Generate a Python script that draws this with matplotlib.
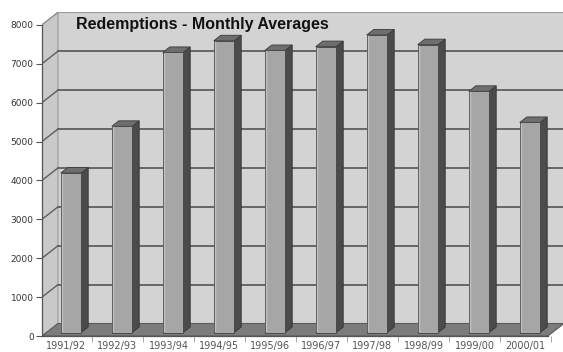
import matplotlib
matplotlib.use("Agg")
import matplotlib.pyplot as plt
from matplotlib.patches import Polygon

categories = ["1991/92", "1992/93", "1993/94", "1994/95", "1995/96",
              "1996/97", "1997/98", "1998/99", "1999/00", "2000/01"]
values = [4100, 5300, 7200, 7500, 7250, 7350, 7650, 7400, 6200, 5400]
yticks = [0, 1000, 2000, 3000, 4000, 5000, 6000, 7000, 8000]
title = "Redemptions - Monthly Averages"

W, H = 563, 352
fig = plt.figure(figsize=(W / 100, H / 100), dpi=100)
fig.patch.set_facecolor("white")

# pixel geometry
px_left, px_right = 42, 563
px_zero, px_top = 336, 12
pitch = 51.0
px_c0 = 66.5
per1000 = 38.9

ax = fig.add_axes([px_left / W, (H - px_zero) / H,
                   (px_right - px_left) / W, (px_zero - px_top) / H])
xmin = (px_left - px_c0) / pitch
xmax = (px_right - px_c0) / pitch
ymax = (px_zero - px_top) / per1000 * 1000
ax.set_xlim(xmin, xmax)
ax.set_ylim(0, ymax)
ax.set_facecolor("white")

DX = 16 / pitch
DY = 12.5 / per1000 * 1000
xL = xmin
xR = 9.44
top = 8000


def P(x, y, z):
    return (x + z * DX, y + z * DY)


# back wall
ax.add_patch(Polygon([P(xL, 0, 1), P(xR + 1, 0, 1), P(xR + 1, top, 1), P(xL, top, 1)],
                     closed=True, facecolor="#d3d3d3", edgecolor="none", zorder=1))
# left wall
ax.add_patch(Polygon([P(xL, 0, 0), P(xL, 0, 1), P(xL, top, 1), P(xL, top, 0)],
                     closed=True, facecolor="#c9c9c9", edgecolor="#9a9a9a", lw=0.8, zorder=1))
# gridlines
for v in yticks[1:-1]:
    bx, by = P(xL, v, 1)
    ax.plot([bx, xmax + 1], [by, by], color="#5e5e5e", lw=1.3, zorder=2)
    fx, fy = P(xL, v, 0)
    ax.plot([fx, bx], [fy, by], color="#5e5e5e", lw=1.0, zorder=2)
tx, ty = P(xL, top, 1)
ax.plot([tx, xmax + 1], [ty, ty], color="#9a9a9a", lw=0.8, zorder=2)
ax.plot([xL, tx], [top, ty], color="#8a8a8a", lw=0.8, zorder=2)

# floor
ax.add_patch(Polygon([P(xL, 0, 0), P(xR, 0, 0), P(xR, 0, 1), P(xL, 0, 1)],
                     closed=True, facecolor="#7c7c7c", edgecolor="#5a5a5a", lw=0.8, zorder=3))

# bars
w = 0.40
z0, z1 = 0.28, 0.72
xs = list(range(len(values)))
fxs = [x - w / 2 + z0 * DX for x in xs]
ax.bar([f + w / 2 for f in fxs], values, width=w, bottom=z0 * DY,
       color="#a6a6a6", edgecolor="#4a4a4a", linewidth=0.7, zorder=5)
for x, v in zip(xs, values):
    x0, x1 = x - w / 2, x + w / 2
    side = [P(x1, 0, z0), P(x1, 0, z1), P(x1, v, z1), P(x1, v, z0)]
    ax.add_patch(Polygon(side, closed=True, facecolor="#4b4b4b",
                         edgecolor="#333333", lw=0.6, zorder=4))
    topf = [P(x0, v, z0), P(x1, v, z0), P(x1, v, z1), P(x0, v, z1)]
    ax.add_patch(Polygon(topf, closed=True, facecolor="#6e6e6e",
                         edgecolor="#3a3a3a", lw=0.6, zorder=4))
    # light highlight strip on front face
    hx = x0 + z0 * DX
    ax.plot([hx + 0.03, hx + 0.03], [z0 * DY + 30, v + z0 * DY - 30],
            color="#c0c0c0", lw=1.0, zorder=6)

# axes styling
for s in ["top", "right", "bottom"]:
    ax.spines[s].set_visible(False)
ax.spines["left"].set_bounds(0, top)
ax.spines["left"].set_color("#555555")
ax.spines["left"].set_linewidth(0.9)
ax.spines["left"].set_zorder(7)
ax.set_yticks(yticks)
ax.set_yticklabels([str(t) for t in yticks], fontsize=6.5, color="#333333")
ax.tick_params(axis="y", length=4, width=0.8, color="#555555", pad=2)
ax.set_xticks(xs)
ax.set_xticklabels(categories, fontsize=7, color="#555555")
ax.tick_params(axis="x", length=0, pad=3.5)
ax.set_xticks([x - 0.5 for x in range(1, len(values) + 1)], minor=True)
ax.tick_params(axis="x", which="minor", length=4, color="#999999")
ax.plot([xL, xR], [0, 0], color="#555555", lw=0.9, zorder=7, clip_on=False)

fig.text(76 / W, 1 - 25 / H, title, fontsize=11.5, fontweight="bold",
         family="Liberation Sans", color="#111111", va="center", ha="left")

fig.savefig("out.png", dpi=100, facecolor="white")
